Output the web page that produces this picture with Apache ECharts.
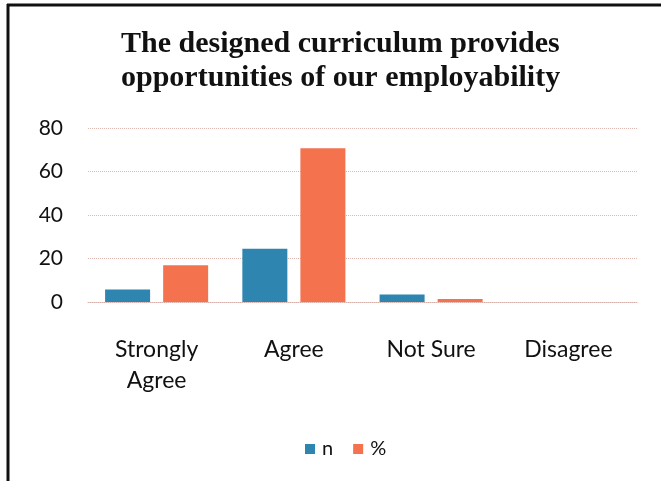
<!DOCTYPE html>
<html>
<head>
<meta charset="utf-8">
<script src="https://cdn.jsdelivr.net/npm/echarts@6/dist/echarts.min.js"></script>
<style>html,body{margin:0;padding:0;background:#fff}#c{width:661px;height:481px}</style>
</head>
<body>
<div id="c"></div>
<script>
const categories = ['Strongly\nAgree', 'Agree', 'Not Sure', 'Disagree'];
const nValues = [5.7, 24.5, 3.4, 0];
const pctValues = [16.9, 70.7, 1.4, 0];
const yTicks = { min: 0, max: 80, interval: 20 };
const titleLines = 'The designed curriculum provides\nopportunities of our employability';

const chart = echarts.init(document.getElementById('c'));
chart.setOption({
  animation: false,
  backgroundColor: '#fff',
  title: {
    text: titleLines,
    left: 116,
    top: 22,
    textAlign: 'left',
    textStyle: { fontFamily: 'Liberation Serif', fontWeight: 'bold', fontSize: 30, lineHeight: 34, color: '#111', align: 'center' }
  },
  legend: {
    data: ['n', '%'],
    top: 434,
    left: 300,
    icon: 'rect',
    itemWidth: 10,
    itemHeight: 10,
    itemGap: 20,
    textStyle: { fontFamily: 'Lato', fontSize: 20, color: '#111', padding: [0, 0, 0, 2] }
  },
  grid: { left: 88, right: 24, top: 128, bottom: 179, containLabel: false },
  xAxis: {
    type: 'category',
    data: categories,
    axisTick: { show: false },
    axisLine: { show: true, lineStyle: { color: '#d6b0a8', type: 'dotted', width: 1 } },
    axisLabel: { fontFamily: 'Lato', fontSize: 23, color: '#111', margin: 32, lineHeight: 31, interval: 0 }
  },
  yAxis: {
    type: 'value',
    min: yTicks.min,
    max: yTicks.max,
    interval: yTicks.interval,
    axisLine: { show: false },
    axisTick: { show: false },
    axisLabel: { fontFamily: 'Lato', fontSize: 21, color: '#111', margin: 25 },
    splitLine: { lineStyle: { color: '#dcb8b0', type: 'dotted', width: 1 } }
  },
  series: [
    {
      name: 'n', type: 'bar', data: nValues, barWidth: 45, barGap: '29%',
      itemStyle: { color: '#2d85b0' }
    },
    {
      name: '%', type: 'bar', data: pctValues, barWidth: 45,
      itemStyle: { color: '#f5724e' }
    }
  ],
  graphic: [
    { type: 'line', shape: { x1: 8, y1: 4, x2: 8, y2: 481 }, style: { stroke: '#111', lineWidth: 3 } },
    { type: 'line', shape: { x1: 7, y1: 5, x2: 661, y2: 5 }, style: { stroke: '#111', lineWidth: 3 } }
  ]
});
</script>
</body>
</html>
